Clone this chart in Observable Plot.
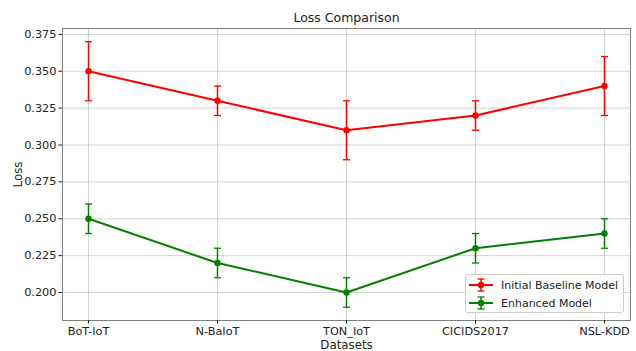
<!DOCTYPE html>
<html>
<head>
<meta charset="utf-8">
<script src="https://cdn.jsdelivr.net/npm/d3@7"></script>
<script src="https://cdn.jsdelivr.net/npm/@observablehq/plot@0.6"></script>
<style>
  html, body { margin: 0; padding: 0; background: #fff; }
  #wrap { position: relative; width: 636px; height: 351px; font-family: "DejaVu Sans", sans-serif; }
  #legend { position: absolute; left: 465px; top: 274px; width: 157px; height: 37px;
            border: 1px solid #cccccc; border-radius: 3px; background: rgba(255,255,255,0.85);
            font-size: 11px; color: #222; white-space: nowrap; }
  .row { position: absolute; left: 3px; height: 18px; display: flex; align-items: center; }
  .row svg { margin-right: 8px; flex: none; }
</style>
</head>
<body>
<div id="wrap"></div>
<script>
const datasets = ["BoT-IoT", "N-BaIoT", "TON_IoT", "CICIDS2017", "NSL-KDD"];
const baselineLoss = [0.35, 0.33, 0.31, 0.32, 0.34];
const baselineErr = [0.02, 0.01, 0.02, 0.01, 0.02];
const enhancedLoss = [0.25, 0.22, 0.20, 0.23, 0.24];
const enhancedErr = [0.01, 0.01, 0.01, 0.01, 0.01];
const seriesNames = ["Initial Baseline Model", "Enhanced Model"];
const seriesColors = ["#ff0000", "#008000"];
const yTicks = [0.200, 0.225, 0.250, 0.275, 0.300, 0.325, 0.350, 0.375];
const titleText = "Loss Comparison";
const xLabel = "Datasets";
const yLabel = "Loss";

const seriesVals = [baselineLoss, enhancedLoss];
const seriesErrs = [baselineErr, enhancedErr];
const rows = [];
seriesNames.forEach((s, si) => {
  datasets.forEach((d, i) => {
    rows.push({series: s, dataset: d, loss: seriesVals[si][i],
               lo: seriesVals[si][i] - seriesErrs[si][i], hi: seriesVals[si][i] + seriesErrs[si][i]});
  });
});

const capSymbol = { draw(ctx, size) { const w = Math.sqrt(size / Math.PI); ctx.moveTo(-w, 0); ctx.lineTo(w, 0); } };

const marks = [
  Plot.gridX(datasets, {stroke: "#b0b0b0", strokeOpacity: 0.55, strokeWidth: 1}),
  Plot.gridY(yTicks, {stroke: "#b0b0b0", strokeOpacity: 0.55, strokeWidth: 1}),
];
seriesNames.forEach((s, si) => {
  const data = rows.filter(r => r.series === s);
  const c = seriesColors[si];
  marks.push(
    Plot.ruleX(data, {x: "dataset", y1: "lo", y2: "hi", stroke: c, strokeWidth: 1.5}),
    Plot.dot(data, {x: "dataset", y: "lo", symbol: capSymbol, r: 3.5, fill: "none", stroke: c, strokeWidth: 1.3}),
    Plot.dot(data, {x: "dataset", y: "hi", symbol: capSymbol, r: 3.5, fill: "none", stroke: c, strokeWidth: 1.3}),
    Plot.line(data, {x: "dataset", y: "loss", stroke: c, strokeWidth: 2}),
    Plot.dot(data, {x: "dataset", y: "loss", r: 3.2, fill: c, stroke: "none"})
  );
});
marks.push(
  Plot.frame({stroke: "#808080", strokeWidth: 1}),
  Plot.axisX({tickSize: 3.5, tickPadding: 2.5, fontSize: 11.3, label: null}),
  Plot.axisY({ticks: yTicks, tickFormat: ".3f", tickSize: 3.5, tickPadding: 2.5, fontSize: 11.3, label: null}),
  Plot.text([titleText], {frameAnchor: "top", dy: -11, lineAnchor: "middle", fontSize: 12.5, fill: "#222"}),
  Plot.text([xLabel], {frameAnchor: "bottom", dy: 25, lineAnchor: "middle", fontSize: 11.8, fill: "#222"}),
  Plot.text([yLabel], {frameAnchor: "left", dx: -44, rotate: -90, textAnchor: "middle", lineAnchor: "middle", fontSize: 11.8, fill: "#222"})
);

const chart = Plot.plot({
  width: 636, height: 351,
  marginTop: 28, marginBottom: 31, marginLeft: 62, marginRight: 6,
  style: {fontFamily: "DejaVu Sans, sans-serif", fontSize: "11.3px", color: "#222", background: "#fff"},
  x: {type: "point", domain: datasets, padding: 0.2},
  y: {domain: [0.181, 0.379]},
  marks
});
const wrap = document.getElementById("wrap");
wrap.appendChild(chart);

const legend = document.createElement("div");
legend.id = "legend";
seriesNames.forEach((s, si) => {
  const row = document.createElement("div");
  row.className = "row";
  row.style.top = (si === 0 ? 1 : 19) + "px";
  const c = seriesColors[si];
  row.innerHTML = `<svg width="24" height="16"><line x1="0" y1="8" x2="24" y2="8" stroke="${c}" stroke-width="2"/>
    <line x1="12" y1="2" x2="12" y2="14" stroke="${c}" stroke-width="1.5"/>
    <line x1="8.5" y1="2" x2="15.5" y2="2" stroke="${c}" stroke-width="1.3"/>
    <line x1="8.5" y1="14" x2="15.5" y2="14" stroke="${c}" stroke-width="1.3"/>
    <circle cx="12" cy="8" r="3.2" fill="${c}"/></svg><span>${s}</span>`;
  legend.appendChild(row);
});
wrap.appendChild(legend);
</script>
</body>
</html>
